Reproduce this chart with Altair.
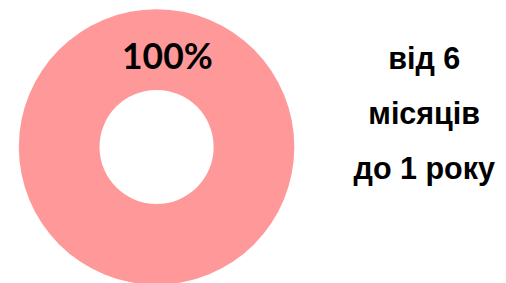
import altair as alt
import pandas as pd

categories = ["від 6 місяців до 1 року"]
shares = [100]
pct_labels = ["100%"]
label_lines = ["від 6", "місяців", "до 1 року"]

df = pd.DataFrame({"category": categories, "share": shares, "label": pct_labels})

base = alt.Chart(df)

arc = base.mark_arc(radius=140, radius2=58, color="#FF9999", stroke=None).encode(
    theta=alt.Theta("share:Q", scale=alt.Scale(domain=[0, 100])),
    x=alt.value(151),
    y=alt.value(139),
)

pct = base.mark_text(
    font="Lato", fontSize=36, fontWeight="bold", color="#000000",
    align="center", baseline="alphabetic"
).encode(
    text="label:N",
    x=alt.value(162),
    y=alt.value(60),
)

side = alt.Chart(pd.DataFrame({"t": [label_lines]})).mark_text(
    font="Liberation Sans", fontSize=31, fontWeight="bold", color="#000000",
    align="center", baseline="alphabetic", lineHeight=56
).encode(
    text="t",
    x=alt.value(423),
    y=alt.value(60),
)

chart = alt.layer(arc, pct, side).properties(
    width=498, height=275, padding=0, autosize=alt.AutoSizeParams(type="none")
).configure_view(stroke=None)

chart.save("out.html", embed_options={"renderer": "svg", "actions": False})
